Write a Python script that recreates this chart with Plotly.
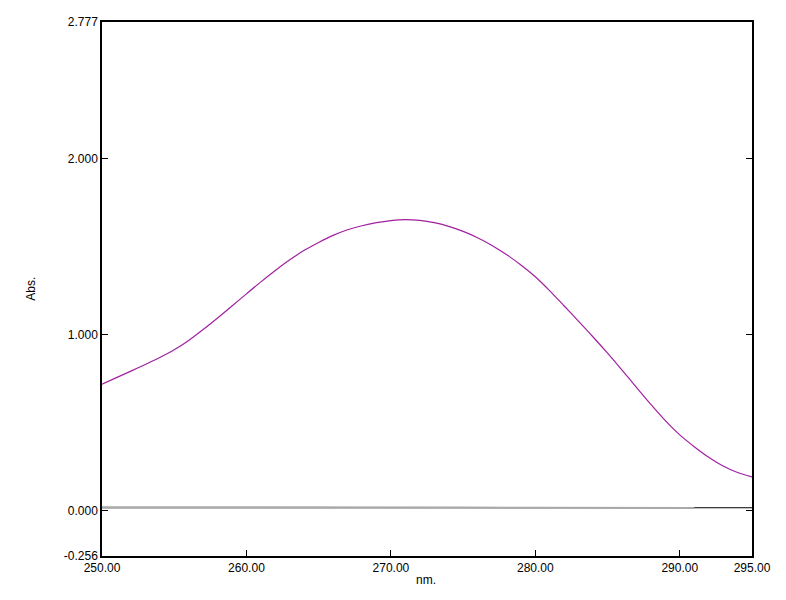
import plotly.graph_objects as go

wavelength_nm = [250, 251, 252, 253, 254, 255, 256, 257, 258, 259, 260, 261, 262, 263, 264,
                 265, 266, 267, 268, 269, 270, 271, 272, 273, 274, 275, 276, 277, 278, 279,
                 280, 281, 282, 283, 284, 285, 286, 287, 288, 289, 290, 291, 292, 293, 294, 295]
sample_abs = [0.720, 0.757, 0.794, 0.832, 0.871, 0.915, 0.968, 1.030, 1.096, 1.164, 1.233,
              1.301, 1.366, 1.426, 1.480, 1.525, 1.565, 1.597, 1.620, 1.637, 1.649, 1.655,
              1.650, 1.637, 1.616, 1.588, 1.552, 1.508, 1.456, 1.397, 1.330, 1.250, 1.164,
              1.077, 0.988, 0.896, 0.800, 0.702, 0.605, 0.513, 0.432, 0.365, 0.305, 0.255,
              0.218, 0.193]

blank_nm = [250, 255, 260, 265, 270, 275, 280, 285, 290, 291]
blank_abs = [0.021, 0.021, 0.022, 0.023, 0.022, 0.020, 0.018, 0.017, 0.016, 0.016]

base_nm = [250, 295]
base_abs = [0.018, 0.018]

y_tickvals = [-0.256, 0.0, 1.0, 2.0, 2.777]
y_ticktext = ["-0.256", "0.000", "1.000", "2.000", "2.777"]
x_tickvals = [250, 260, 270, 280, 290, 295]
x_ticktext = ["250.00", "260.00", "270.00", "280.00", "290.00", "295.00"]

# page body has an 8px margin; figure placed at (8, 8)
OFF = 8
W, H = 770, 580
L, R, T, B = 102 - OFF, W - (754 - OFF), 15 - OFF, H - (556 - OFF)

fig = go.Figure()
fig.add_trace(go.Scatter(x=base_nm, y=base_abs, mode="lines",
                         line=dict(color="#000000", width=1.2), hoverinfo="skip"))
fig.add_trace(go.Scatter(x=blank_nm, y=blank_abs, mode="lines",
                         line=dict(color="#a9a9a9", width=2)))
fig.add_trace(go.Scatter(x=wavelength_nm, y=sample_abs, mode="lines",
                         line=dict(color="#a020a0", width=1.2, shape="spline",
                                   smoothing=0.8, simplify=False)))

font = dict(family="Liberation Sans, Arial, sans-serif", size=12, color="#000000")

pw = W - L - R
ph = H - T - B

fig.update_layout(
    width=W, height=H,
    margin=dict(l=L, r=R, t=T, b=B, pad=0),
    paper_bgcolor="white", plot_bgcolor="white",
    showlegend=False,
    font=font,
    xaxis=dict(range=[250, 295], tickvals=x_tickvals, ticktext=x_ticktext,
               ticks="inside", ticklen=6, tickcolor="black", tickwidth=1,
               showline=True, linecolor="black", linewidth=1.5, mirror=True,
               showgrid=False, zeroline=False, tickfont=font),
    yaxis=dict(range=[-0.256, 2.777], tickvals=y_tickvals, ticktext=y_ticktext,
               ticks="inside", ticklen=6, tickcolor="black", tickwidth=1,
               showline=True, linecolor="black", linewidth=1.5, mirror="ticks",
               showgrid=False, zeroline=False, tickfont=font),
    annotations=[
        dict(text="Abs.", xref="paper", yref="paper", showarrow=False,
             x=(30 - 102) / pw, y=(556 - 285) / ph,
             xanchor="center", yanchor="middle", textangle=-90, font=font),
        dict(text="nm.", xref="paper", yref="paper", showarrow=False,
             x=(427 - 102) / pw, y=(556 - 580) / ph,
             xanchor="center", yanchor="middle", font=font),
    ],
)

fig.write_html("out.html")
